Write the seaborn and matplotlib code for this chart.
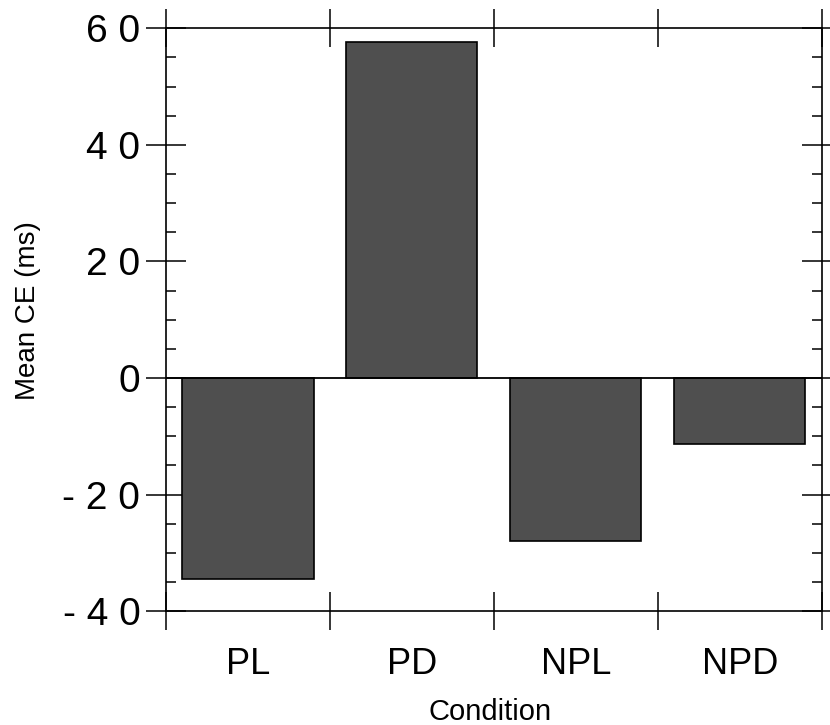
import matplotlib
matplotlib.use("Agg")
import matplotlib.pyplot as plt
import seaborn as sns
import pandas as pd
import numpy as np

# ---------- data ----------
conditions = ["PL", "PD", "NPL", "NPD"]
mean_ce = [-34.5, 57.6, -28.0, -11.3]
y_ticks = [-40, -20, 0, 20, 40, 60]
y_tick_labels = ["- 4 0", "- 2 0", "0", "2 0", "4 0", "6 0"]

df = pd.DataFrame({"Condition": conditions, "ce": mean_ce})

sns.set_theme(style="ticks")
plt.rcParams["font.family"] = ["Liberation Sans", "DejaVu Sans"]
plt.rcParams.update({"text.color": "black", "axes.labelcolor": "black",
                     "xtick.color": "black", "ytick.color": "black",
                     "axes.edgecolor": "black"})

fig = plt.figure(figsize=(8.3, 7.25), dpi=100)
ax = fig.add_axes([0.2, 0.157, 0.79, 0.804])

sns.barplot(data=df, x="Condition", y="ce", color="#4f4f4f", width=0.8,
            edgecolor="black", linewidth=1.2, saturation=1, ax=ax)
ax.axhline(0, color="black", lw=1.3, zorder=3)

ax.set_xlim(-0.5, len(conditions) - 0.5)
ax.set_ylim(-40, 60)

# y axis: major crossing ticks, minor inward ticks on both sides
ax.set_yticks(y_ticks, y_tick_labels)
ax.set_yticks(np.arange(-40, 61, 5), minor=True)
ax.tick_params(axis="y", which="major", direction="inout", length=29, width=1.1,
               left=True, right=True, labelsize=28, pad=4)
ax.tick_params(axis="y", which="minor", direction="in", length=7, width=1.1,
               left=True, right=True)

# x axis: labels at centres, tick marks on category boundaries
ax.set_xticks(range(len(conditions)), conditions)
ax.set_xticks(np.arange(-0.5, len(conditions)), minor=True)
ax.tick_params(axis="x", which="major", length=0, labelsize=26, pad=26)
ax.tick_params(axis="x", which="minor", direction="inout", length=28, width=1.1,
               top=True, bottom=True)

for s in ax.spines.values():
    s.set_linewidth(1.2)
    s.set_visible(True)

ax.set_xlabel("Condition", fontsize=21)
ax.set_ylabel("Mean CE (ms)", fontsize=20)
ax.xaxis.set_label_coords(0.494, -0.149)
ax.yaxis.set_label_coords(-0.19, 0.516)

plt.savefig("out.png", dpi=100)
